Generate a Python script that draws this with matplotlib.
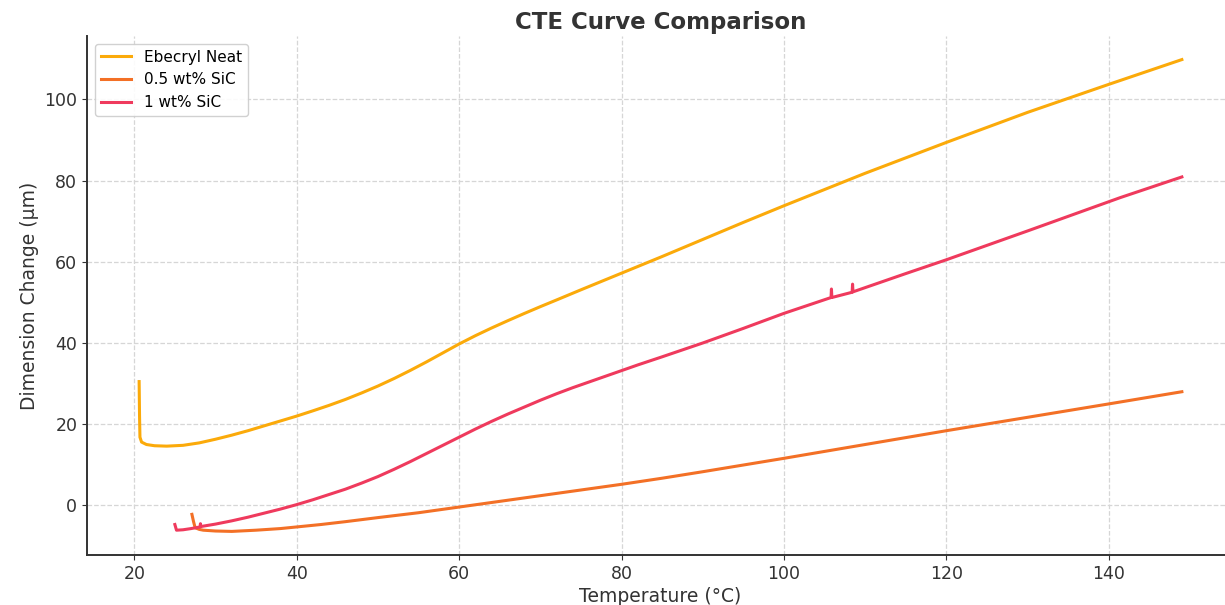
import matplotlib
matplotlib.use("Agg")
import matplotlib.pyplot as plt

# temperature (°C) / dimension change (µm) for each sample
neat_temp = [20.6, 20.65, 20.7, 20.9, 21.5, 22.5, 24.0, 26.0, 28.0, 30.0, 32.0, 34.0,
             36.0, 38.0, 40.0, 42.0, 44.0, 46.0, 48.0, 50.0, 52.0, 54.0, 56.0, 58.0,
             60.0, 62.0, 64.0, 66.0, 68.0, 70.0, 72.0, 75.0, 80.0, 85.0, 90.0, 95.0,
             100.0, 110.0, 120.0, 130.0, 140.0, 149.0]
neat_dim = [30.5, 22.0, 16.8, 15.6, 15.0, 14.7, 14.6, 14.8, 15.4, 16.3, 17.3, 18.4,
            19.6, 20.8, 22.0, 23.3, 24.65, 26.1, 27.7, 29.4, 31.26, 33.26, 35.36, 37.56,
            39.76, 41.8, 43.7, 45.5, 47.25, 48.95, 50.6, 53.1, 57.2, 61.3, 65.5, 69.7,
            73.8, 81.8, 89.4, 96.8, 103.7, 109.8]

sic05_temp = [27.1, 27.3, 27.5, 28.0, 28.5, 30.0, 32.0, 35.0, 38.0, 40.0, 43.0, 46.0,
              50.0, 55.0, 60.0, 65.0, 70.0, 75.0, 80.0, 85.0, 90.0, 100.0, 110.0,
              120.0, 130.0, 140.0, 149.0]
sic05_dim = [-2.2, -4.0, -5.5, -5.9, -6.1, -6.3, -6.4, -6.1, -5.7, -5.3, -4.7, -4.0,
             -3.0, -1.8, -0.4, 1.0, 2.4, 3.8, 5.2, 6.7, 8.3, 11.6, 15.0,
             18.4, 21.7, 25.0, 28.0]

sic1_temp = [25.0, 25.2, 26.0, 27.0, 28.1, 28.15, 28.2, 30.0, 32.0, 34.0, 36.0, 38.0,
             40.0, 42.0, 44.0, 46.0, 48.0, 50.0, 52.0, 54.0, 56.0, 58.0, 60.0, 62.0,
             64.0, 66.0, 68.0, 70.0, 72.0, 74.0, 76.0, 78.0, 80.0, 82.0, 85.0, 90.0,
             95.0, 100.0, 105.8, 105.85, 105.9, 108.4, 108.45, 108.5, 115.0, 120.0,
             130.0, 141.4, 149.0]
sic1_dim = [-4.7, -6.1, -6.0, -5.7, -5.3, -4.5, -5.2, -4.6, -3.8, -2.9, -1.9, -0.9,
            0.2, 1.4, 2.7, 4.0, 5.5, 7.1, 8.9, 10.8, 12.8, 14.8, 16.8, 18.8,
            20.7, 22.5, 24.2, 25.9, 27.5, 29.0, 30.4, 31.8, 33.2, 34.6, 36.6, 40.0,
            43.6, 47.3, 51.2, 53.3, 51.2, 52.5, 54.5, 52.6, 57.1, 60.5,
            67.6, 75.8, 80.9]

fig = plt.figure(figsize=(12.25, 6.05), dpi=100)
ax = fig.add_axes([87 / 1225, 50 / 605, 1147 / 1225, 519 / 605])

ax.plot(neat_temp, neat_dim, color="#FBAA0A", lw=2.2, label="Ebecryl Neat")
ax.plot(sic05_temp, sic05_dim, color="#F37026", lw=2.2, label="0.5 wt% SiC")
ax.plot(sic1_temp, sic1_dim, color="#EF3A5D", lw=2.2, label="1 wt% SiC")

ax.set_title("CTE Curve Comparison", fontsize=16.5, fontweight="bold", color="#333333", pad=5)
ax.set_xlabel("Temperature (°C)", fontsize=13.5, color="#333333", labelpad=3)
ax.set_ylabel("Dimension Change (µm)", fontsize=13.5, color="#333333")

ax.grid(True, linestyle="--", color="#d6d6d6", linewidth=0.9)
ax.set_axisbelow(True)
ax.tick_params(labelsize=12.5, colors="#333333")
for side in ["top", "right"]:
    ax.spines[side].set_visible(False)
for side in ["left", "bottom"]:
    ax.spines[side].set_color("#333333")
    ax.spines[side].set_linewidth(1.4)

ax.legend(loc="upper left", fontsize=11, framealpha=0.9, edgecolor="#cccccc")

fig.savefig("out.png", dpi=100)
